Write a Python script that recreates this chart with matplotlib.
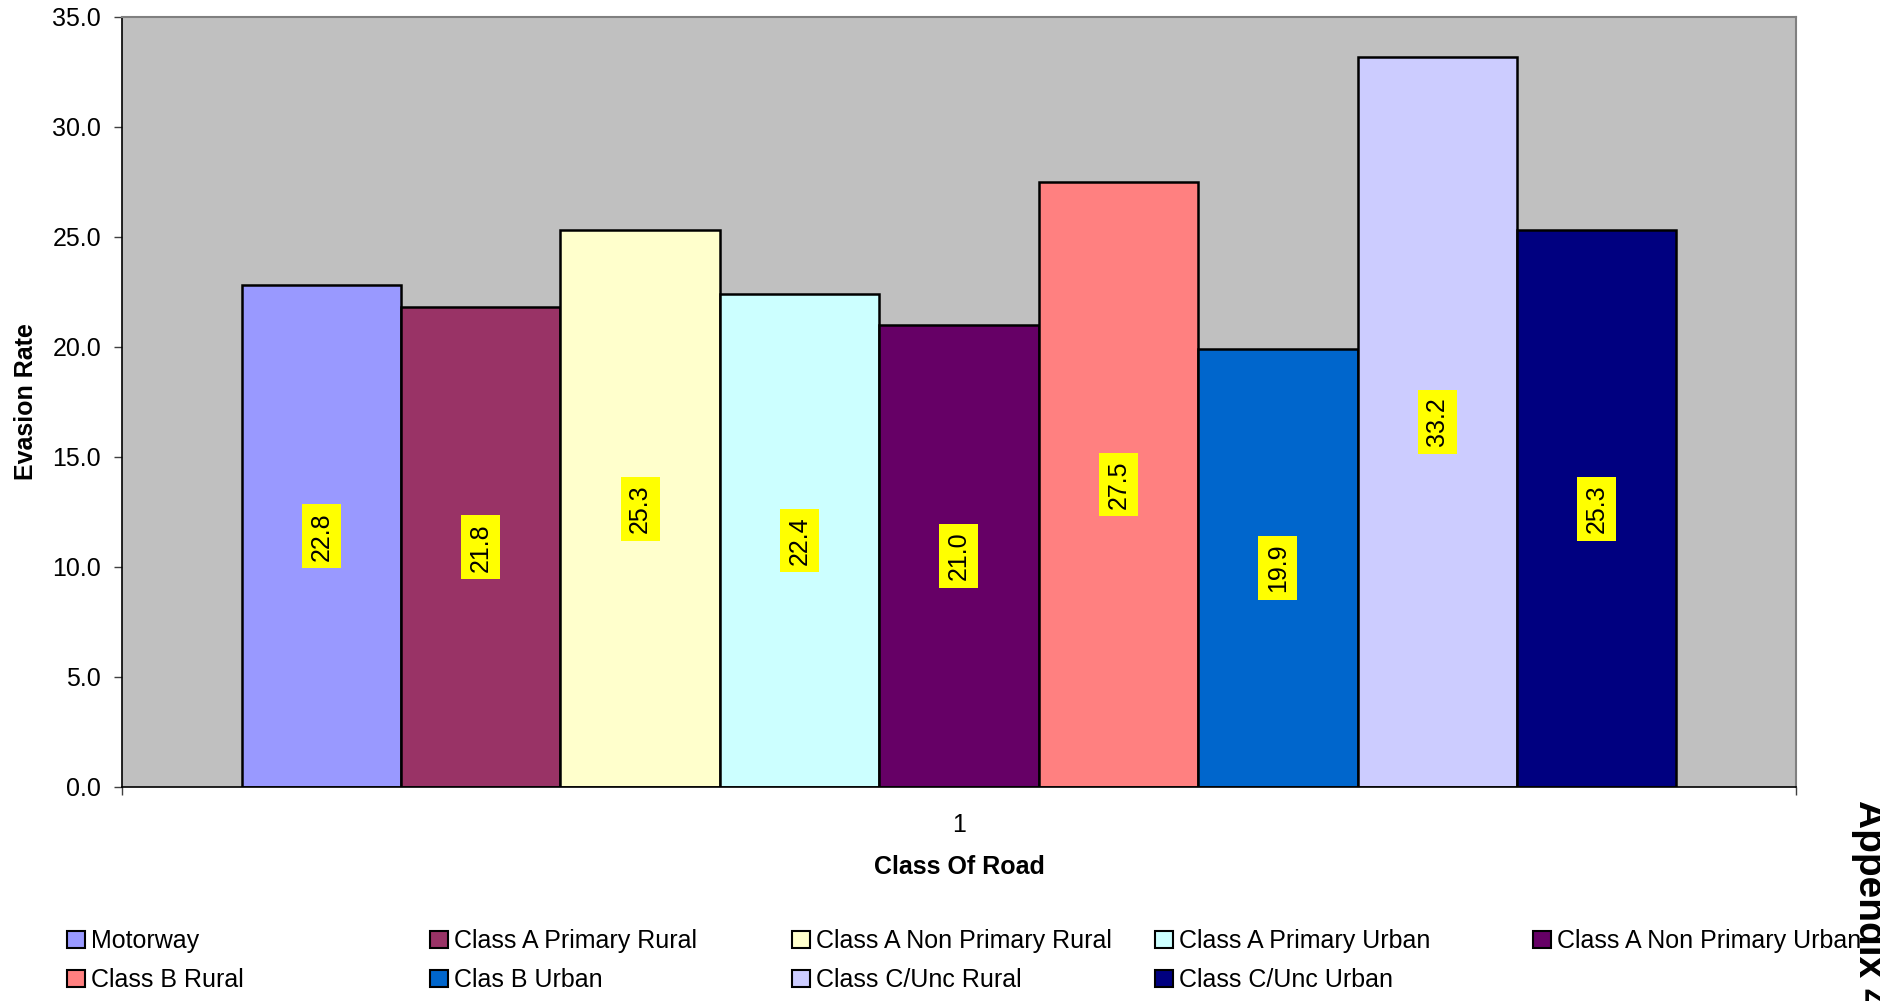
import matplotlib
matplotlib.use("Agg")
import matplotlib.pyplot as plt
from matplotlib.patches import Patch
import numpy as np

plt.rcParams['font.family'] = ['Liberation Sans', 'DejaVu Sans']

categories = ["Motorway", "Class A Primary Rural", "Class A Non Primary Rural",
              "Class A Primary Urban", "Class A Non Primary Urban", "Class B Rural",
              "Clas B Urban", "Class C/Unc Rural", "Class C/Unc Urban"]
values = [22.8, 21.8, 25.3, 22.4, 21.0, 27.5, 19.9, 33.2, 25.3]
colors = ["#9999FF", "#993366", "#FFFFCC", "#CCFFFF", "#660066", "#FF8080",
          "#0066CC", "#CCCCFF", "#000080"]
yticks = [0, 5, 10, 15, 20, 25, 30, 35]
xticklabels = ["1"]

W, H = 1881, 1001
fig = plt.figure(figsize=(W / 100, H / 100), dpi=100)
L, R, T, B = 122, 1796, 17, 787
ax = fig.add_axes([L / W, 1 - B / H, (R - L) / W, (B - T) / H])
ax.set_facecolor("#C0C0C0")

FS = 18
n = len(values)
group = 0.857
w = group / n
xs = (np.arange(n) - (n - 1) / 2) * w
bars = ax.bar(xs, values, width=w, color=colors, edgecolor="black", linewidth=1.8,
              zorder=2)

for x, v in zip(xs, values):
    ax.text(x, v / 2, f"{v:.1f}", rotation=90, ha="center", va="center",
            fontsize=FS, zorder=3,
            bbox=dict(boxstyle="square,pad=0.3", facecolor="#FFFF00", edgecolor="none"))

ax.set_xlim(-0.5, 0.5)
ax.set_ylim(0, 35)
ax.set_yticks(yticks)
ax.set_yticklabels([f"{t:.1f}" for t in yticks])
ax.set_xticks([0])
ax.set_xticklabels(xticklabels)
ax.set_xticks([-0.5, 0.5], minor=True)
ax.tick_params(axis="x", which="major", length=0, pad=19, labelsize=FS)
ax.tick_params(axis="x", which="minor", length=6, width=1, direction="out", color="#404040")
ax.tick_params(axis="y", which="major", length=6, width=1, direction="out", pad=9,
               labelsize=FS, color="#404040")

for s in ["top", "right"]:
    ax.spines[s].set_color("#808080")
    ax.spines[s].set_linewidth(1.5)
for s in ["left", "bottom"]:
    ax.spines[s].set_color("black")
    ax.spines[s].set_linewidth(1.2)

ax.set_xlabel("Class Of Road", fontsize=FS, fontweight="bold", va="center")
ax.xaxis.set_label_coords(0.5, (B - 867) / (B - T))
ax.set_ylabel("Evasion Rate", fontsize=FS, fontweight="bold", va="center")
ax.yaxis.set_label_coords((26 - L) / (R - L), 0.5)

# Legend: five columns laid out in two rows
col_x = [69, 432, 794, 1157, 1535]
rows = [list(range(0, 5)), list(range(5, 9))]
handles = [Patch(facecolor=c, edgecolor="black", linewidth=1.5) for c in colors]
for ci, cx in enumerate(col_x):
    idx = [r[ci] for r in rows if ci < len(r)]
    fig.legend([handles[i] for i in idx], [categories[i] for i in idx],
               loc="upper left", bbox_to_anchor=(cx / W - 0.001, 1 - 929 / H),
               frameon=False, fontsize=FS, handlelength=0.7, handleheight=0.7,
               handletextpad=0.25, labelspacing=0.6, borderpad=0, borderaxespad=0)

fig.text(1859 / W, 1 - 800 / H, "Appendix 4", rotation=270, rotation_mode="anchor",
         ha="left", va="baseline", fontsize=28, fontweight="bold")

fig.savefig("out.png", dpi=100)
